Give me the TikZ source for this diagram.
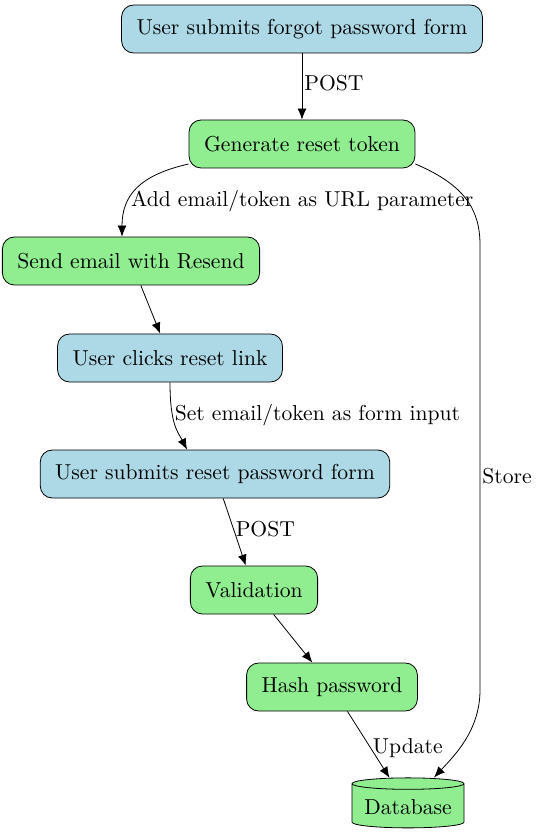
\documentclass[tikz,border=0pt]{standalone}
\usetikzlibrary{shapes.geometric,arrows.meta}

\definecolor{userblue}{HTML}{ADD8E6}
\definecolor{sysgreen}{HTML}{90EE90}

\tikzset{
    userbox/.style={draw, rounded corners=6pt, fill=userblue, minimum height=24pt, inner xsep=7.5pt},
    sysbox/.style={draw, rounded corners=6pt, fill=sysgreen, minimum height=24pt, inner xsep=7.5pt},
    flow/.style={-{Latex[length=5.5pt, width=4.5pt]}},
    lbl/.style={inner sep=1pt, anchor=west}
}

\begin{document}
\begin{tikzpicture}[x=0.5pt, y=-0.5pt, font=\fontsize{10.8}{13}\selectfont]
        \useasboundingbox (0, 0) rectangle (539, 833);

        % Steps
        \node [userbox] (forgot) at (302, 29) {User submits forgot password form};
        \node [sysbox] (token) at (302, 144) {Generate reset token};
        \node [sysbox] (mail) at (131, 261) {Send email with Resend};
        \node [userbox] (click) at (170, 358) {User clicks reset link};
        \node [userbox] (reset) at (215, 474) {User submits reset password form};
        \node [sysbox] (valid) at (254, 590) {Validation};
        \node [sysbox] (hash) at (332, 687) {Hash password};

        % Database
        \node [draw, fill=sysgreen, cylinder, shape border rotate=90, aspect=0.12,
               minimum width=56pt, minimum height=25pt, inner xsep=2pt] (db) at (408, 807) {Database};

        % Edges
        \draw [flow] (forgot) -- (token) node [lbl, pos=0.45] {POST};
        \draw [flow] (token.190) .. controls (140, 175) and (122, 195) .. ([xshift=-4.5pt]mail.north)
            node [lbl, pos=0.66] {Add email/token as URL parameter};
        \draw [flow] (mail) -- (click);
        \draw [flow] (click.south) .. controls (170, 425) and (178, 432) .. ([xshift=-14pt]reset.north)
            node [lbl, pos=0.33] {Set email/token as form input};
        \draw [flow] (reset) -- (valid) node [lbl, pos=0.45] {POST};
        \draw [flow] (valid) -- (hash);
        \draw [flow] (hash) -- (db) node [lbl, pos=0.55] {Update};
        \draw [flow] (token.-10) .. controls (465, 185) and (480, 210) .. (480, 245)
            -- (480, 690) node [lbl, pos=0.52] {Store}
            .. controls (480, 730) and (455, 755) .. ([xshift=13pt]db.north);
    \end{tikzpicture}
\end{document}
